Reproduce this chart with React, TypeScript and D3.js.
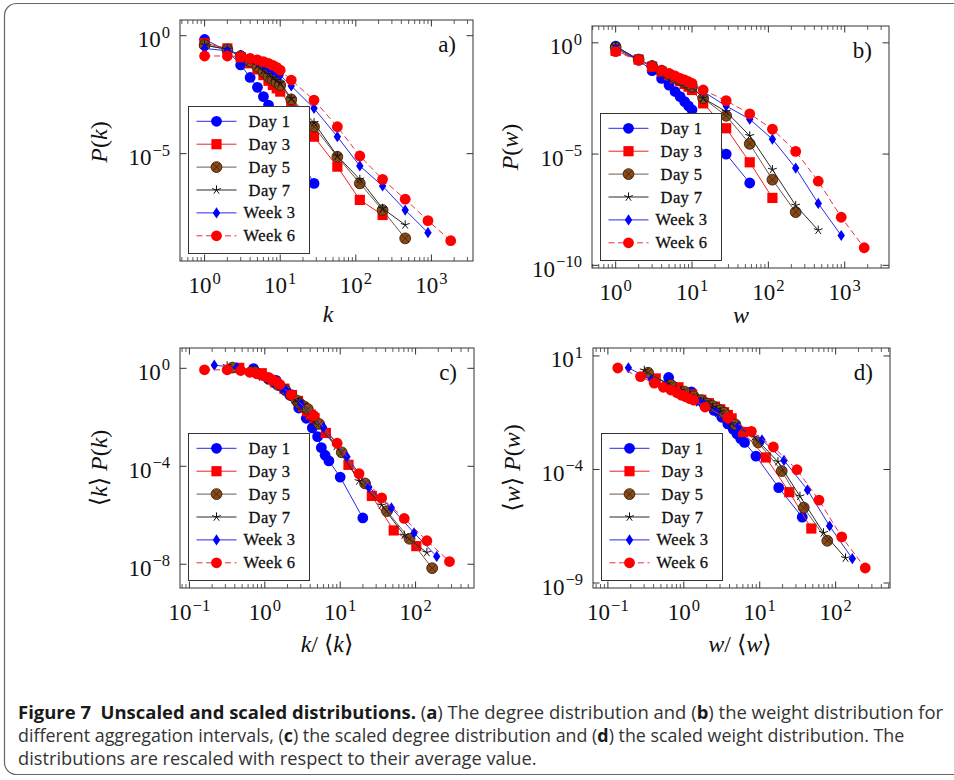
import React, { useLayoutEffect, useRef, useState } from 'react';
import * as d3 from 'd3';

// ---------- data ----------
const seriesNames = ['Day 1', 'Day 3', 'Day 5', 'Day 7', 'Week 3', 'Week 6'];
const degreeBins = [1, 2, 3, 4, 5, 6, 7, 8, 9, 10, 14, 28, 57, 113, 226, 450, 900, 1800];
const weightBins = [1, 2, 3, 4, 5, 6, 7, 8, 9, 10, 14, 28, 57, 113, 228, 450, 900, 1800];

// panel a: log10 P(k), one value per degree bin
const aDay1 = [-0.16, -0.64, -1.24, -1.77, -2.19, -2.58, -2.94, -3.39, -3.7, -3.93, -4.59, -6.26];
const aDay3 = [-0.32, -0.54, -0.92, -1.17, -1.43, -1.67, -1.91, -2.09, -2.23, -2.37, -2.98, -4.28, -5.55, -6.96, -7.6];
const aDay5 = [-0.4, -0.58, -0.86, -1.1, -1.31, -1.53, -1.74, -1.88, -1.99, -2.09, -2.7, -3.86, -5.13, -6.26, -7.39, -8.59];
const aDay7 = [-0.4, -0.58, -0.83, -1.06, -1.26, -1.46, -1.62, -1.77, -1.88, -1.99, -2.66, -3.69, -5.1, -6.09, -7.32, -8.02];
const aWeek3 = [-0.54, -0.64, -0.82, -0.96, -1.1, -1.24, -1.38, -1.48, -1.57, -1.67, -2.13, -3.08, -4.28, -5.52, -6.37, -7.39, -8.35];
const aWeek6 = [-0.86, -0.86, -0.89, -0.96, -1.03, -1.1, -1.17, -1.26, -1.34, -1.46, -1.88, -2.73, -3.86, -5.1, -6.09, -6.93, -7.84, -8.69];

// panel b: log10 P(w), one value per weight bin
const bDay1 = [-0.15, -0.78, -1.25, -1.6, -1.9, -2.19, -2.42, -2.64, -2.84, -3.01, -3.61, -5.0, -6.3];
const bDay3 = [-0.36, -0.75, -1.07, -1.3, -1.45, -1.6, -1.72, -1.85, -1.97, -2.12, -2.72, -3.84, -5.37, -6.97];
const bDay5 = [-0.21, -0.75, -1.04, -1.25, -1.42, -1.57, -1.67, -1.78, -1.87, -1.97, -2.49, -3.28, -4.54, -6.15, -7.61];
const bDay7 = [-0.15, -0.75, -1.04, -1.25, -1.4, -1.55, -1.67, -1.78, -1.87, -1.97, -2.49, -3.09, -4.18, -5.7, -7.31, -8.42];
const bWeek3 = [-0.25, -0.78, -1.04, -1.25, -1.4, -1.52, -1.63, -1.72, -1.79, -1.87, -2.19, -2.84, -3.43, -4.33, -5.63, -7.22, -8.66];
const bWeek6 = [-0.4, -0.78, -1.07, -1.25, -1.37, -1.49, -1.6, -1.67, -1.75, -1.82, -2.12, -2.6, -3.19, -3.88, -4.88, -6.22, -7.84, -9.21];

// panel c: log10 (k/<k>) and log10 (<k>P(k))
const cDay1X = [-0.15, 0.15, 0.33, 0.45, 0.55, 0.63, 0.7, 0.75, 0.8, 0.85, 1.0, 1.3];
const cDay1Y = [-0.01, -0.49, -1.09, -1.62, -2.04, -2.43, -2.79, -3.24, -3.55, -3.78, -4.44, -6.11];
const cDay3X = [-0.34, -0.04, 0.14, 0.26, 0.36, 0.44, 0.51, 0.56, 0.61, 0.66, 0.81, 1.11, 1.42, 1.71, 2.01];
const cDay3Y = [0.02, -0.2, -0.58, -0.83, -1.09, -1.33, -1.57, -1.75, -1.89, -2.03, -2.64, -3.94, -5.21, -6.62, -7.26];
const cDay5X = [-0.43, -0.13, 0.05, 0.17, 0.27, 0.35, 0.42, 0.47, 0.52, 0.57, 0.72, 1.02, 1.33, 1.62, 1.92, 2.22];
const cDay5Y = [0.03, -0.15, -0.43, -0.67, -0.88, -1.1, -1.31, -1.45, -1.56, -1.66, -2.27, -3.43, -4.7, -5.83, -6.96, -8.16];
const cDay7X = [-0.5, -0.2, -0.02, 0.1, 0.2, 0.28, 0.35, 0.4, 0.45, 0.5, 0.65, 0.95, 1.25, 1.55, 1.85, 2.15];
const cDay7Y = [0.1, -0.08, -0.33, -0.56, -0.76, -0.96, -1.12, -1.27, -1.38, -1.49, -2.16, -3.19, -4.6, -5.59, -6.82, -7.52];
const cWeek3X = [-0.67, -0.37, -0.19, -0.07, 0.03, 0.11, 0.18, 0.23, 0.28, 0.33, 0.48, 0.78, 1.09, 1.38, 1.68, 1.98, 2.28];
const cWeek3Y = [0.13, 0.03, -0.15, -0.29, -0.43, -0.57, -0.71, -0.81, -0.9, -1.0, -1.46, -2.41, -3.61, -4.85, -5.7, -6.72, -7.68];
const cWeek6X = [-0.8, -0.5, -0.32, -0.2, -0.1, -0.02, 0.05, 0.1, 0.15, 0.2, 0.35, 0.65, 0.96, 1.25, 1.55, 1.85, 2.15, 2.45];
const cWeek6Y = [-0.06, -0.06, -0.09, -0.16, -0.23, -0.3, -0.37, -0.46, -0.54, -0.66, -1.08, -1.93, -3.06, -4.3, -5.29, -6.13, -7.04, -7.89];

// panel d: log10 (w/<w>) and log10 (<w>P(w))
const dDay1X = [-0.2, 0.1, 0.28, 0.4, 0.5, 0.58, 0.65, 0.7, 0.75, 0.8, 0.95, 1.25, 1.56];
const dDay1Y = [0.05, -0.58, -1.05, -1.4, -1.7, -1.99, -2.22, -2.44, -2.64, -2.81, -3.41, -4.8, -6.1];
const dDay3X = [-0.37, -0.07, 0.11, 0.23, 0.33, 0.41, 0.48, 0.53, 0.58, 0.63, 0.78, 1.08, 1.39, 1.68];
const dDay3Y = [0.01, -0.38, -0.7, -0.93, -1.08, -1.23, -1.35, -1.48, -1.6, -1.75, -2.35, -3.47, -5.0, -6.6];
const dDay5X = [-0.47, -0.17, 0.01, 0.13, 0.23, 0.31, 0.38, 0.43, 0.48, 0.53, 0.68, 0.98, 1.29, 1.58, 1.89];
const dDay5Y = [0.26, -0.28, -0.57, -0.78, -0.95, -1.1, -1.2, -1.31, -1.4, -1.5, -2.02, -2.81, -4.07, -5.68, -7.14];
const dDay7X = [-0.52, -0.22, -0.04, 0.08, 0.18, 0.26, 0.33, 0.38, 0.43, 0.48, 0.63, 0.93, 1.24, 1.53, 1.84, 2.13];
const dDay7Y = [0.37, -0.23, -0.52, -0.73, -0.88, -1.03, -1.15, -1.26, -1.35, -1.45, -1.97, -2.57, -3.66, -5.18, -6.79, -7.9];
const dWeek3X = [-0.73, -0.43, -0.25, -0.13, -0.03, 0.05, 0.12, 0.17, 0.22, 0.27, 0.42, 0.72, 1.03, 1.32, 1.63, 1.92, 2.22];
const dWeek3Y = [0.48, -0.05, -0.31, -0.52, -0.67, -0.79, -0.9, -0.99, -1.06, -1.14, -1.46, -2.11, -2.7, -3.6, -4.9, -6.49, -7.93];
const dWeek6X = [-0.87, -0.57, -0.39, -0.27, -0.17, -0.09, -0.03, 0.03, 0.08, 0.13, 0.28, 0.58, 0.89, 1.18, 1.49, 1.78, 2.08, 2.39];
const dWeek6Y = [0.47, 0.09, -0.2, -0.38, -0.5, -0.62, -0.73, -0.8, -0.88, -0.95, -1.25, -1.73, -2.32, -3.01, -4.01, -5.35, -6.97, -8.34];

// tick exponents
const aYTicks = [0, -5];
const bYTicks = [0, -5, -10];
const cYTicks = [0, -4, -8];
const dYTicks = [1, -4, -9];

const captionLines = [
  [
    { t: 'Figure 7\u00A0\u00A0Unscaled and scaled distributions.', b: true },
    { t: ' (', b: false },
    { t: 'a', b: true },
    { t: ') The degree distribution and (', b: false },
    { t: 'b', b: true },
    { t: ') the weight distribution for', b: false },
  ],
  [
    { t: 'different aggregation intervals, (', b: false },
    { t: 'c', b: true },
    { t: ') the scaled degree distribution and (', b: false },
    { t: 'd', b: true },
    { t: ') the scaled weight distribution. The', b: false },
  ],
  [{ t: 'distributions are rescaled with respect to their average value.', b: false }],
];

// ---------- styles ----------
type Mark = 'circle' | 'square' | 'otimes' | 'star' | 'diamond';
const styles: { color: string; line: string; dash?: string; mark: Mark }[] = [
  { color: '#0000ff', line: '#2a2ae8', mark: 'circle' },
  { color: '#ff0000', line: '#f02020', mark: 'square' },
  { color: '#8a4a18', line: '#6e5a4c', mark: 'otimes' },
  { color: '#111111', line: '#2a2a2a', mark: 'star' },
  { color: '#0000ff', line: '#2a2ae8', mark: 'diamond' },
  { color: '#ff0000', line: '#e8303c', dash: '6,3.5', mark: 'circle' },
];

const SERIF = '"Liberation Serif", "DejaVu Serif", serif';
const TICK = '#333';

function Marker({ mark, x, y, color }: { mark: Mark; x: number; y: number; color: string }) {
  if (mark === 'circle') return <circle cx={x} cy={y} r={5.4} fill={color} />;
  if (mark === 'square') return <rect x={x - 5.1} y={y - 5.1} width={10.2} height={10.2} fill={color} />;
  if (mark === 'diamond')
    return <path d={`M${x},${y - 5.6}L${x + 3.7},${y}L${x},${y + 5.6}L${x - 3.7},${y}Z`} fill={color} />;
  if (mark === 'otimes') {
    const r = 5.4;
    const q = r * 0.7;
    return (
      <g>
        <circle cx={x} cy={y} r={r} fill={color} stroke="#3a2008" strokeWidth={0.9} />
        <path d={`M${x - q},${y - q}L${x + q},${y + q}M${x - q},${y + q}L${x + q},${y - q}`} stroke="#3a2008" strokeWidth={0.8} />
      </g>
    );
  }
  // star: five spokes
  const spokes = d3.range(5).map((i) => {
    const a = -Math.PI / 2 + (i * 2 * Math.PI) / 5;
    return `M${x},${y}L${x + 4.6 * Math.cos(a)},${y + 4.6 * Math.sin(a)}`;
  });
  return <path d={spokes.join('')} stroke={color} strokeWidth={1} fill="none" />;
}

type Cfg = {
  x: number; y: number; w: number; h: number;
  xd: [number, number]; yd: [number, number];
  yTicks: number[];
  series: [number, number][][];
  label: string;
  xLabel: React.ReactNode; xLabelPos: [number, number];
  yLabel: React.ReactNode; yLabelPos: [number, number];
};

function Pow({ e, fs = 23 }: { e: number; fs?: number }) {
  return (
    <>
      <tspan>10</tspan>
      <tspan dy={-9.5} fontSize={fs * 0.72} dx={1}>{e < 0 ? '\u2212' + Math.abs(e) : String(e)}</tspan>
    </>
  );
}

function Panel({ c }: { c: Cfg }) {
  const xs = d3.scaleLog().domain([10 ** c.xd[0], 10 ** c.xd[1]]).range([c.x, c.x + c.w]);
  const ys = d3.scaleLog().domain([10 ** c.yd[0], 10 ** c.yd[1]]).range([c.y + c.h, c.y]);
  const xMajor: number[] = [];
  for (let n = Math.ceil(c.xd[0]); n <= Math.floor(c.xd[1]); n++) xMajor.push(n);
  const xMinor: number[] = [];
  for (let n = Math.floor(c.xd[0]); n <= Math.ceil(c.xd[1]); n++)
    for (let m = 2; m <= 9; m++) {
      const lv = Math.log10(m) + n;
      if (lv > c.xd[0] && lv < c.xd[1]) xMinor.push(m * 10 ** n);
    }
  const bottom = c.y + c.h;
  const right = c.x + c.w;
  const line = d3
    .line<[number, number]>()
    .x((d) => xs(d[0]))
    .y((d) => ys(d[1]));
  const MJ = 6.5;
  const MN = 4;
  // legend geometry
  const lx = c.x + 8.5;
  const lw = 121;
  const lh = 147;
  const ly = bottom - 7.5 - lh;
  return (
    <g>
      {/* series */}
      {c.series.map((pts, i) => (
        <g key={i}>
          <path d={line(pts) || ''} fill="none" stroke={styles[i].line} strokeWidth={1} strokeDasharray={styles[i].dash} />
          {pts.map((p, j) => (
            <Marker key={j} mark={styles[i].mark} x={xs(p[0])} y={ys(p[1])} color={styles[i].color} />
          ))}
        </g>
      ))}
      {/* frame */}
      <rect x={c.x} y={c.y} width={c.w} height={c.h} fill="none" stroke={TICK} strokeWidth={1} />
      {/* x ticks */}
      {xMajor.map((n) => {
        const px = xs(10 ** n);
        return (
          <g key={'xm' + n}>
            <line x1={px} x2={px} y1={bottom} y2={bottom - MJ} stroke={TICK} />
            <line x1={px} x2={px} y1={c.y} y2={c.y + MJ} stroke={TICK} />
            <text x={px} y={bottom + 32} textAnchor="middle" fontFamily={SERIF} fontSize={23} fill="#111">
              <Pow e={n} />
            </text>
          </g>
        );
      })}
      {xMinor.map((v, i) => {
        const px = xs(v);
        return (
          <g key={'xn' + i}>
            <line x1={px} x2={px} y1={bottom} y2={bottom - MN} stroke={TICK} strokeWidth={0.8} />
            <line x1={px} x2={px} y1={c.y} y2={c.y + MN} stroke={TICK} strokeWidth={0.8} />
          </g>
        );
      })}
      {/* y ticks */}
      {c.yTicks.map((n) => {
        const py = ys(10 ** n);
        return (
          <g key={'y' + n}>
            <line x1={c.x} x2={c.x + MJ} y1={py} y2={py} stroke={TICK} />
            <line x1={right} x2={right - MJ} y1={py} y2={py} stroke={TICK} />
            <text x={c.x - 10} y={py + 11.5} textAnchor="end" fontFamily={SERIF} fontSize={23} fill="#111">
              <Pow e={n} />
            </text>
          </g>
        );
      })}
      {/* panel label */}
      <text x={right - 17} y={c.y + 32} textAnchor="end" fontFamily={SERIF} fontSize={23} fill="#111">
        {c.label}
      </text>
      {/* axis labels */}
      <text x={c.xLabelPos[0]} y={c.xLabelPos[1]} textAnchor="middle" fontFamily={SERIF} fontSize={24} fill="#111">
        {c.xLabel}
      </text>
      <text
        transform={`translate(${c.yLabelPos[0]},${c.yLabelPos[1]}) rotate(-90)`}
        textAnchor="middle"
        fontFamily={SERIF}
        fontSize={24}
        fill="#111"
      >
        {c.yLabel}
      </text>
      {/* legend */}
      <rect x={lx} y={ly} width={lw} height={lh} fill="#fff" stroke="#333" strokeWidth={1} />
      {seriesNames.map((name, i) => {
        const ey = ly + 14.8 + i * 22.9;
        return (
          <g key={name}>
            <line x1={lx + 8} x2={lx + 48} y1={ey} y2={ey} stroke={styles[i].line} strokeWidth={1} strokeDasharray={styles[i].dash} />
            <Marker mark={styles[i].mark} x={lx + 28} y={ey} color={styles[i].color} />
            <text
              x={lx + 81}
              y={ey + 5.5}
              textAnchor="middle"
              fontFamily={SERIF}
              fontSize={16.5}
              fill="#111"
              stroke="#111"
              strokeWidth={0.3}
              letterSpacing={0.4}
            >
              {name}
            </text>
          </g>
        );
      })}
    </g>
  );
}

const I = ({ children }: { children: React.ReactNode }) => <tspan fontStyle="italic">{children}</tspan>;

function toPts(xs: number[], logY: number[]): [number, number][] {
  return logY.map((v, i) => [xs[i], 10 ** v]);
}
function toPtsLog(logX: number[], logY: number[]): [number, number][] {
  return logY.map((v, i) => [10 ** logX[i], 10 ** v]);
}

const capX = 18;
const capWidths = [926, 887, 519];
const capY = [719, 742, 765];

export default function App() {
  const capRefs = useRef<(SVGTextElement | null)[]>([]);
  const [capScale, setCapScale] = useState<number[]>([1, 1, 1]);
  useLayoutEffect(() => {
    const s = capRefs.current.map((el, i) => {
      if (!el) return 1;
      const len = el.getComputedTextLength();
      return len > 0 ? capWidths[i] / len : 1;
    });
    setCapScale(s);
  }, []);

  const panels: Cfg[] = [
    {
      x: 180, y: 20, w: 293, h: 241, xd: [-0.3255, 3.55], yd: [-9.55, 0.665], yTicks: aYTicks,
      series: [aDay1, aDay3, aDay5, aDay7, aWeek3, aWeek6].map((s) => toPts(degreeBins, s)),
      label: 'a)',
      xLabel: <I>k</I>, xLabelPos: [328, 322],
      yLabel: <><I>P</I>(<I>k</I>)</>, yLabelPos: [107, 142],
    },
    {
      x: 592, y: 26, w: 297, h: 242, xd: [-0.31, 3.58], yd: [-10.12, 0.756], yTicks: bYTicks,
      series: [bDay1, bDay3, bDay5, bDay7, bWeek3, bWeek6].map((s) => toPts(weightBins, s)),
      label: 'b)',
      xLabel: <I>w</I>, xLabelPos: [741, 323],
      yLabel: <><I>P</I>(<I>w</I>)</>, yLabelPos: [518, 147],
    },
    {
      x: 180, y: 348, w: 294, h: 240, xd: [-1.125, 2.775], yd: [-8.97, 0.83], yTicks: cYTicks,
      series: [
        toPtsLog(cDay1X, cDay1Y), toPtsLog(cDay3X, cDay3Y), toPtsLog(cDay5X, cDay5Y),
        toPtsLog(cDay7X, cDay7Y), toPtsLog(cWeek3X, cWeek3Y), toPtsLog(cWeek6X, cWeek6Y),
      ],
      label: 'c)',
      xLabel: <><I>k</I>/ {'\u27E8'}<I>k</I>{'\u27E9'}</>, xLabelPos: [327, 652],
      yLabel: <>{'\u27E8'}<I>k</I>{'\u27E9'} <I>P</I>(<I>k</I>)</>, yLabelPos: [107, 468],
    },
    {
      x: 593, y: 348, w: 297, h: 240, xd: [-1.196, 2.716], yd: [-9.22, 1.35], yTicks: dYTicks,
      series: [
        toPtsLog(dDay1X, dDay1Y), toPtsLog(dDay3X, dDay3Y), toPtsLog(dDay5X, dDay5Y),
        toPtsLog(dDay7X, dDay7Y), toPtsLog(dWeek3X, dWeek3Y), toPtsLog(dWeek6X, dWeek6Y),
      ],
      label: 'd)',
      xLabel: <><I>w</I>/ {'\u27E8'}<I>w</I>{'\u27E9'}</>, xLabelPos: [740, 652],
      yLabel: <>{'\u27E8'}<I>w</I>{'\u27E9'} <I>P</I>(<I>w</I>)</>, yLabelPos: [520, 468],
    },
  ];
  return (
    <svg width={954} height={780} style={{ position: 'absolute', left: 0, top: 0, background: '#fff' }}>
      <rect x={0} y={0} width={954} height={780} fill="#fff" />
      <rect x={4.5} y={3.5} width={980} height={771} rx={12} ry={12} fill="none" stroke="#666" strokeWidth={1.2} />
      {panels.map((p, i) => (
        <Panel key={i} c={p} />
      ))}
      {captionLines.map((segs, li) => (
        <text
          key={li}
          ref={(el) => {
            capRefs.current[li] = el;
          }}
          transform={`translate(${capX},${capY[li]}) scale(${capScale[li]},1)`}
          x={0}
          y={0}
          fontFamily='"Open Sans", "Noto Sans", sans-serif'
          fontSize={18.5}
          fill="#2a2a2a"
        >
          {segs.map((s, si) => (
            <tspan key={si} fontWeight={s.b ? 700 : 400} fill={s.b ? '#1a1a1a' : '#333'}>
              {s.t}
            </tspan>
          ))}
        </text>
      ))}
    </svg>
  );
}
